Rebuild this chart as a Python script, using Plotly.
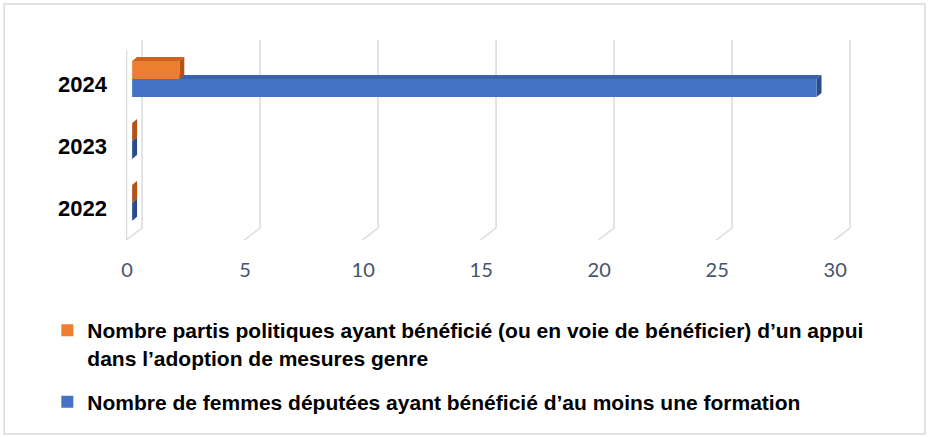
import plotly.graph_objects as go

years = ["2022", "2023", "2024"]
femmes_deputees = [0, 0, 29]
partis_politiques = [0, 0, 2]
x_ticks = [0, 5, 10, 15, 20, 25, 30]

name_blue = "Nombre de femmes députées ayant bénéficié d’au moins une formation"
name_orange = ("Nombre partis politiques ayant bénéficié (ou en voie de bénéficier) d’un appui"
               "<br>dans l’adoption de mesures genre")

BLUE = "#4472C4"
ORANGE = "#ED7D31"
FONT = "Liberation Sans, Arial, sans-serif"
TICKFONT = "Lato, Liberation Sans, sans-serif"

pos = list(range(len(years)))
bargap = 0.42
bw = (1 - bargap) / 2
dx, dy = 0.21, 0.065

fig = go.Figure()
fig.add_trace(go.Bar(y=pos, x=femmes_deputees, orientation="h", name=name_blue,
                     marker=dict(color=BLUE, line=dict(width=0)), legendgroup="b",
                     legendrank=2))
fig.add_trace(go.Bar(y=pos, x=partis_politiques, orientation="h", name=name_orange,
                     marker=dict(color=ORANGE, line=dict(width=0)), legendgroup="o",
                     legendrank=1))

shapes = []
# 3D-style grid: back vertical line + slanted floor line
for v in x_ticks:
    shapes.append(dict(type="path", xref="x", yref="paper", layer="below",
                       path=f"M{v+0.42},1 L{v+0.42},0.06 L{v-0.24},0",
                       line=dict(color="#D9DAE0", width=1.5)))
shapes.append(dict(type="line", xref="x", yref="paper", layer="below",
                   x0=-0.24, x1=-0.24, y0=0, y1=0.95,
                   line=dict(color="#D9DAE0", width=1.5)))

# 3D faces of the bars (top face and end face), computed from the data
def faces(vals, base_off, top_col, end_col):
    for i, v in zip(pos, vals):
        b = i + base_off
        t = b + bw
        if v > 0:
            shapes.append(dict(type="path", xref="x", yref="y", layer="between",
                               path=f"M0,{t} L{v},{t} L{v+dx},{t+dy} L{dx},{t+dy} Z",
                               fillcolor=top_col, line=dict(width=0)))
        shapes.append(dict(type="path", xref="x", yref="y", layer="between",
                           path=f"M{v},{b} L{v},{t} L{v+dx},{t+dy} L{v+dx},{b+dy} Z",
                           fillcolor=end_col, line=dict(width=0)))

faces(femmes_deputees, -bw, "#3A62AE", "#2B4C8C")
faces(partis_politiques, 0, "#C9631F", "#B0541A")

# outer border
shapes.append(dict(type="rect", xref="paper", yref="paper", layer="below",
                   x0=-0.168, x1=1.102, y0=-0.97, y1=1.18,
                   line=dict(color="#D9D9D9", width=1.5), fillcolor="rgba(0,0,0,0)"))

fig.update_layout(
    width=928, height=437,
    margin=dict(l=126, r=77, t=40, b=197, autoexpand=False),
    paper_bgcolor="white", plot_bgcolor="white",
    barmode="group", bargap=bargap,
    shapes=shapes,
    font=dict(family=FONT),
    xaxis=dict(range=[-0.26, 30.46], tickvals=x_ticks, showgrid=False, zeroline=False,
               showline=False, ticks="", ticklabelshift=-5, ticklabelstandoff=16,
               automargin=False,
               tickfont=dict(size=20, color="#44546A", family=TICKFONT)),
    yaxis=dict(range=[-0.6, 2.63], tickvals=pos, ticktext=years, showgrid=False,
               zeroline=False, showline=False, ticks="", ticklabelshift=5,
               ticklabelstandoff=18, automargin=False,
               tickfont=dict(size=22, color="black", family=FONT, weight="bold")),
    legend=dict(orientation="v", traceorder="grouped", x=-0.1085, xanchor="left",
                y=-0.35, yanchor="top", valign="top", tracegroupgap=14,
                font=dict(size=21, color="black", family=FONT, weight="bold"),
                bgcolor="rgba(0,0,0,0)"),
    showlegend=True,
)

fig.write_html("out.html", config={"displayModeBar": False},
               post_script="document.body.style.margin='0';")
